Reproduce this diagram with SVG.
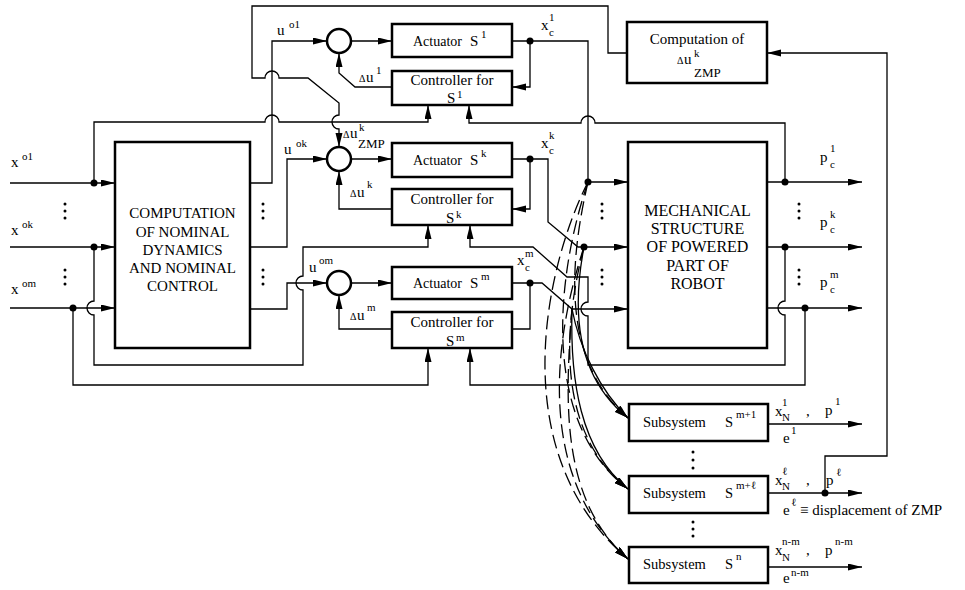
<svg xmlns="http://www.w3.org/2000/svg" width="965" height="590" viewBox="0 0 965 590">
<style>
text{font-family:"Liberation Serif","Liberation Sans",Arial,sans-serif;font-size:15px;fill:#000}
.sm{font-size:11px}
.tn{font-size:10px}
.md{font-size:13px}
.act{font-size:14px}
.sub{font-size:14.5px}
.mech{font-size:16px}
.mid{text-anchor:middle}
.box{fill:#fff;stroke:#000;stroke-width:2.5}
.sum{fill:#fff;stroke:#000;stroke-width:2.5}
.ln{fill:none;stroke:#000;stroke-width:1.3}
.ar{marker-end:url(#ah)}
.dash{stroke-dasharray:14 6}
.dot{fill:#000}
</style>
<defs>
<marker id="ah" markerWidth="15" markerHeight="8" refX="14" refY="3.5" orient="auto" markerUnits="userSpaceOnUse">
<path d="M0,0 L14,3.5 L0,7 z" fill="#000"/>
</marker>
</defs>
<g id="connectors">
<path class="ln ar" d="M10,183 H115"/>
<path class="ln ar" d="M94,183 V122 H265 A7,7 0 0 1 279,122 H428 V105"/>
<path class="ln ar" d="M10,247 H115"/>
<path class="ln ar" d="M94,247 V301 A7,7 0 0 0 94,315 V365 H303 V290 A7,7 0 0 1 303,276 V247 H428 V225"/>
<path class="ln ar" d="M10,308 H115"/>
<path class="ln ar" d="M73,308 V385 H428 V348"/>
<path class="ln ar" d="M250,183 H272 V41 H327"/>
<path class="ln ar" d="M250,247 H287 V159 H327"/>
<path class="ln ar" d="M250,309 H287 V283 H327"/>
<path class="ln ar" d="M351,41 H392"/>
<path class="ln ar" d="M351,159 H392"/>
<path class="ln ar" d="M351,283 H392"/>
<path class="ln ar" d="M512,41 H588 V182 H628"/>
<path class="ln ar" d="M530,41 V87 H512"/>
<path class="ln ar" d="M785,182 V123 H595 A7,7 0 0 0 581,123 H469 V105"/>
<path class="ln ar" d="M392,87 H355 L339,73 V53"/>
<path class="ln ar" d="M627,53 H608 V6 H252 V78 H265 A7,7 0 0 1 279,78 H308 L339,103 V115 A7,7 0 0 0 339,129 V147"/>
<path class="ln ar" d="M512,159 H548 V222 L578,247 H628"/>
<path class="ln ar" d="M530,159 V209 H512"/>
<path class="ln ar" d="M392,209 H339 V171"/>
<path class="ln ar" d="M785,247 V301 A7,7 0 0 0 785,315 V365 H588 V316 A7,7 0 0 1 588,302 V277 H567 L533,247 H470 V225"/>
<path class="ln ar" d="M767,182 H862"/>
<path class="ln ar" d="M767,247 H862"/>
<path class="ln ar" d="M767,308 H862"/>
<path class="ln ar" d="M805,308 V385 H470 V348"/>
<path class="ln ar" d="M512,283 H542 L572,309 H628"/>
<path class="ln" d="M530,283 V329 H512"/>
<path class="ln ar" d="M392,329 H339 V295"/>
<path class="ln ar" d="M768,424 H862"/>
<path class="ln ar" d="M768,493 H862"/>
<path class="ln ar" d="M768,567 H862"/>
<path class="ln ar" d="M825,493 V456 H887 V53 H767"/>
<path class="ln dash ar" d="M588,182 C548,260 500,450 628,559"/>
<path class="ln dash ar" d="M588,182 C558,270 538,420 628,489"/>
<path class="ln dash ar" d="M588,182 C570,260 560,360 628,418"/>
<path class="ln dash ar" d="M584,247 C560,320 528,470 628,559"/>
<path class="ln dash ar" d="M584,247 C565,320 553,430 628,489"/>
<path class="ln ar" d="M584,247 C570,320 580,380 628,418"/>
<path class="ln ar" d="M572,309 C580,350 600,390 628,418"/>
<path class="ln ar" d="M572,309 C570,380 580,450 628,489"/>
<path class="ln dash ar" d="M572,309 C565,400 560,500 628,559"/>
<circle class="dot" cx="94" cy="183" r="3.5"/>
<circle class="dot" cx="94" cy="247" r="3.5"/>
<circle class="dot" cx="73" cy="308" r="3.5"/>
<circle class="dot" cx="530" cy="41" r="3.5"/>
<circle class="dot" cx="530" cy="159" r="3.5"/>
<circle class="dot" cx="530" cy="283" r="3.5"/>
<circle class="dot" cx="588" cy="182" r="3.5"/>
<circle class="dot" cx="584" cy="247" r="3.5"/>
<circle class="dot" cx="785" cy="182" r="3.5"/>
<circle class="dot" cx="785" cy="247" r="3.5"/>
<circle class="dot" cx="805" cy="308" r="3.5"/>
<circle class="dot" cx="825" cy="493" r="3.5"/>
</g>
<g id="nominal">
<rect class="box" x="115" y="142" width="135" height="206"/>
<text class="mid" x="182.5" y="218">COMPUTATION</text>
<text class="mid" x="182.5" y="237">OF NOMINAL</text>
<text class="mid" x="182.5" y="255">DYNAMICS</text>
<text class="mid" x="182.5" y="273">AND NOMINAL</text>
<text class="mid" x="182.5" y="291">CONTROL</text>
</g>
<g id="mechanical">
<rect class="box" x="628" y="142" width="139" height="206"/>
<text class="mid mech" x="697.5" y="216">MECHANICAL</text>
<text class="mid mech" x="697.5" y="234">STRUCTURE</text>
<text class="mid mech" x="697.5" y="252">OF POWERED</text>
<text class="mid mech" x="697.5" y="271">PART OF</text>
<text class="mid mech" x="697.5" y="289">ROBOT</text>
</g>
<g id="zmp">
<rect class="box" x="627" y="22" width="140" height="61"/>
<text class="mid" x="697" y="44">Computation of</text>
<text class="tn" x="677" y="64">Δ</text><text x="684" y="64">u</text>
<text class="sm" x="694" y="57">k</text>
<text class="md" x="694" y="77">ZMP</text>
</g>
<g id="sum1"><circle class="sum" cx="339" cy="41" r="12"/></g>
<g id="sumk"><circle class="sum" cx="339" cy="159" r="12"/></g>
<g id="summ"><circle class="sum" cx="339" cy="283" r="12"/></g>
<g id="act1">
<rect class="box" x="392" y="24" width="120" height="33"/>
<text class="act" x="413" y="46">Actuator</text><text x="470" y="46">S</text><text class="sm" x="481" y="38">1</text>
</g>
<g id="ctl1">
<rect class="box" x="392" y="71" width="120" height="34"/>
<text class="mid" x="452" y="85">Controller for</text>
<text x="447" y="103">S</text><text class="sm" x="457" y="98">1</text>
</g>
<g id="actk">
<rect class="box" x="392" y="143" width="120" height="34"/>
<text class="act" x="413" y="165">Actuator</text><text x="470" y="165">S</text><text class="sm" x="481" y="157">k</text>
</g>
<g id="ctlk">
<rect class="box" x="392" y="189" width="120" height="36"/>
<text class="mid" x="452" y="204">Controller for</text>
<text x="446" y="223">S</text><text class="sm" x="456" y="218">k</text>
</g>
<g id="actm">
<rect class="box" x="392" y="267" width="120" height="32"/>
<text class="act" x="413" y="288">Actuator</text><text x="470" y="288">S</text><text class="sm" x="481" y="280">m</text>
</g>
<g id="ctlm">
<rect class="box" x="392" y="312" width="120" height="36"/>
<text class="mid" x="452" y="327">Controller for</text>
<text x="446" y="346">S</text><text class="sm" x="456" y="341">m</text>
</g>
<g id="sub1">
<rect class="box" x="629" y="404" width="139" height="37"/>
<text class="sub" x="643" y="427">Subsystem</text><text class="sub" x="725" y="427">S</text><text class="sm" x="736" y="418">m+1</text>
</g>
<g id="subl">
<rect class="box" x="629" y="476" width="139" height="37"/>
<text class="sub" x="643" y="498">Subsystem</text><text class="sub" x="725" y="498">S</text><text class="sm" x="736" y="489">m+ℓ</text>
</g>
<g id="subn">
<rect class="box" x="629" y="547" width="139" height="36"/>
<text class="sub" x="643" y="569">Subsystem</text><text class="sub" x="725" y="569">S</text><text class="sm" x="736" y="560">n</text>
</g>
<g id="labels">
<text x="11" y="167">x</text><text class="sm" x="22" y="160">o1</text>
<text x="11" y="235">x</text><text class="sm" x="22" y="228">ok</text>
<text x="11" y="294">x</text><text class="sm" x="22" y="287">om</text>
<text x="277" y="35">u</text><text class="sm" x="289" y="28">o1</text>
<text x="284" y="154">u</text><text class="sm" x="296" y="147">ok</text>
<text x="309" y="272">u</text><text class="sm" x="319" y="264">om</text>
<text class="tn" x="359" y="82">Δ</text><text x="366" y="82">u</text><text class="sm" x="376" y="74">1</text>
<text class="tn" x="343" y="138">Δ</text><text x="350" y="138">u</text><text class="sm" x="359" y="131">k</text><text class="md" x="358" y="148">ZMP</text>
<text class="tn" x="350" y="197">Δ</text><text x="357" y="197">u</text><text class="sm" x="367" y="188">k</text>
<text class="tn" x="350" y="320">Δ</text><text x="357" y="320">u</text><text class="sm" x="367" y="311">m</text>
<text x="541" y="30">x</text><text class="sm" x="549" y="21">1</text><text class="sm" x="549" y="36">c</text>
<text x="541" y="148">x</text><text class="sm" x="549" y="139">k</text><text class="sm" x="549" y="154">c</text>
<text x="517" y="265">x</text><text class="sm" x="525" y="257">m</text><text class="sm" x="525" y="271">c</text>
<text x="820" y="162">p</text><text class="sm" x="830" y="152">1</text><text class="sm" x="830" y="168">c</text>
<text x="820" y="227">p</text><text class="sm" x="830" y="218">k</text><text class="sm" x="830" y="233">c</text>
<text x="820" y="287">p</text><text class="sm" x="830" y="278">m</text><text class="sm" x="830" y="293">c</text>
<text x="775" y="416">x</text><text class="sm" x="782" y="406">1</text><text class="sm" x="782" y="421">N</text>
<text x="806" y="416">,</text>
<text x="825" y="415">p</text><text class="sm" x="835" y="405">1</text>
<text x="783" y="443">e</text><text class="sm" x="791" y="434">1</text>
<text x="775" y="485">x</text><text class="sm" x="782" y="475">ℓ</text><text class="sm" x="782" y="490">N</text>
<text x="806" y="485">,</text>
<text x="826" y="485">p</text><text class="sm" x="836" y="476">ℓ</text>
<text x="783" y="515">e</text><text class="sm" x="791" y="506">ℓ</text><text x="800" y="515">≡ displacement of ZMP</text>
<text x="775" y="555">x</text><text class="sm" x="782" y="545">n-m</text><text class="sm" x="782" y="561">N</text>
<text x="806" y="555">,</text>
<text x="825" y="555">p</text><text class="sm" x="835" y="545">n-m</text>
<text x="783" y="583">e</text><text class="sm" x="791" y="576">n-m</text>
</g>
<g id="ellipses" fill="#000">
<circle cx="65" cy="204" r="1.5"/><circle cx="65" cy="211" r="1.5"/><circle cx="65" cy="218" r="1.5"/>
<circle cx="65" cy="270" r="1.5"/><circle cx="65" cy="277" r="1.5"/><circle cx="65" cy="284" r="1.5"/>
<circle cx="263" cy="204" r="1.5"/><circle cx="263" cy="211" r="1.5"/><circle cx="263" cy="218" r="1.5"/>
<circle cx="263" cy="270" r="1.5"/><circle cx="263" cy="277" r="1.5"/><circle cx="263" cy="284" r="1.5"/>
<circle cx="602" cy="204" r="1.5"/><circle cx="602" cy="211" r="1.5"/><circle cx="602" cy="218" r="1.5"/>
<circle cx="602" cy="270" r="1.5"/><circle cx="602" cy="277" r="1.5"/><circle cx="602" cy="284" r="1.5"/>
<circle cx="799" cy="204" r="1.5"/><circle cx="799" cy="211" r="1.5"/><circle cx="799" cy="218" r="1.5"/>
<circle cx="799" cy="270" r="1.5"/><circle cx="799" cy="277" r="1.5"/><circle cx="799" cy="284" r="1.5"/>
<circle cx="693" cy="452" r="1.5"/><circle cx="693" cy="460" r="1.5"/><circle cx="693" cy="468" r="1.5"/>
<circle cx="693" cy="522" r="1.5"/><circle cx="693" cy="529" r="1.5"/><circle cx="693" cy="536" r="1.5"/>
</g>
</svg>
